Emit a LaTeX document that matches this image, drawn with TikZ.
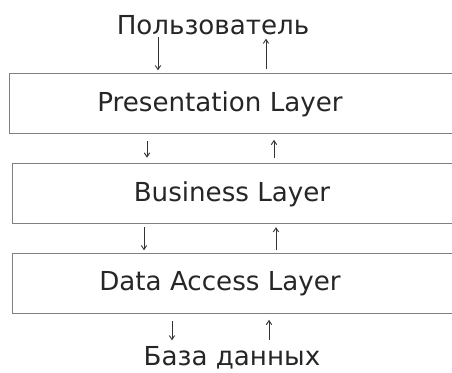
\documentclass[tikz,border=0pt]{standalone}
\usepackage{fontspec}
\setmainfont{DejaVu Sans}
\usetikzlibrary{arrows.meta}
\definecolor{BoxGray}{HTML}{808080}
\definecolor{ArrowGray}{HTML}{333333}

\begin{document}
\begin{tikzpicture}[
    x=0.75pt, y=-0.75pt,
    layer/.style={draw=BoxGray, line width=1.1pt, rectangle, anchor=north west, minimum width=#1*0.75pt, minimum height=60*0.75pt, inner sep=0pt},
    caption/.style={font=\fontsize{19.6}{22}\selectfont, text=black!85, inner sep=0pt},
    flow/.style={ArrowGray, line width=0.7pt, -{Straight Barb[length=3pt,width=4pt]}},
    >=Stealth
]
    \useasboundingbox (0,0) rectangle (452,372);
    \clip (0,0) rectangle (452,372);

    % Layers (boxes run past the right edge)
    \node[layer=520] (pres) at (9,73) {};
    \node[layer=520] (bus) at (12,163) {};
    \node[layer=520] (dal) at (12,253) {};

    % Layer names
    \node[caption] (prestext) at (220,104) {Presentation Layer};
    \node[caption] (bustext) at (232,194) {Business Layer};
    \node[caption] (daltext) at (220,284) {Data Access Layer};

    % Ends
    \node[caption, anchor=base] (user) at (213,34) {Пользователь};
    \node[caption, anchor=base] (db) at (232,365) {База данных};

    % User <-> presentation
    \draw[flow] ([yshift=-2pt]user.south -| 158,0) -- ([yshift=2pt]pres.north -| 158,0);
    \draw[flow] ([yshift=3pt]pres.north -| 266,0) -- ([yshift=-3pt]user.south -| 266,0);

    % Presentation <-> business
    \draw[flow] ([yshift=-5pt]pres.south -| 147,0) -- ([yshift=4pt]bus.north -| 147,0);
    \draw[flow] ([yshift=4pt]bus.north -| 274,0) -- ([yshift=-4pt]pres.south -| 274,0);

    % Business <-> data access
    \draw[flow] ([yshift=-2pt]bus.south -| 144,0) -- ([yshift=2pt]dal.north -| 144,0);
    \draw[flow] ([yshift=2pt]dal.north -| 276,0) -- ([yshift=-2pt]bus.south -| 276,0);

    % Data access <-> database
    \draw[flow] ([yshift=-5pt]dal.south -| 172,0) -- ([yshift=4pt]db.north -| 172,0);
    \draw[flow] ([yshift=4pt]db.north -| 269,0) -- ([yshift=-4pt]dal.south -| 269,0);
\end{tikzpicture}
\end{document}
